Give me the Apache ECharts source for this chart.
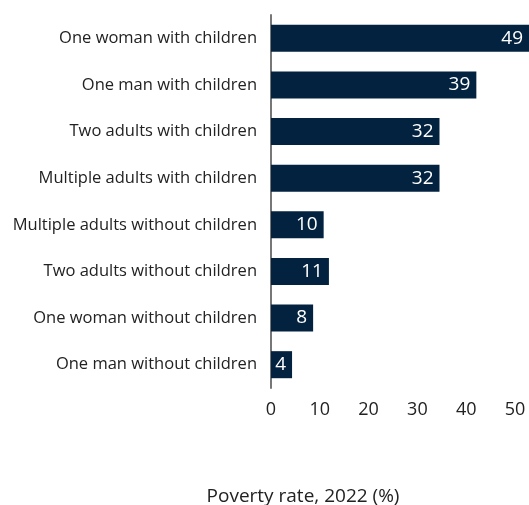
<!DOCTYPE html>
<html><head><meta charset="utf-8">
<script src="https://cdn.jsdelivr.net/npm/echarts@6/dist/echarts.min.js"></script>
<style>html,body{margin:0;padding:0;background:#fff}#c{width:529px;height:505px}</style>
</head><body><div id="c"></div>
<script>
const categories = ["One woman with children","One man with children","Two adults with children","Multiple adults with children","Multiple adults without children","Two adults without children","One woman without children","One man without children"];
const values = [49, 39, 32, 32, 10, 11, 8, 4];
const tickLabels = [0, 10, 20, 30, 40, 50];
const axisTitle = "Poverty rate, 2022 (%)";
const FONT = "Open Sans";
const chart = echarts.init(document.getElementById('c'), null, {renderer:'canvas'});
chart.setOption({
  animation:false,
  textStyle:{fontFamily:FONT},
  title:{text:axisTitle, left:298, top:482, textAlign:'center',
    textStyle:{color:'#222', fontSize:19, fontWeight:'normal', fontFamily:FONT}},
  grid:[
    {left:271, right:0, top:15, bottom:117, containLabel:false},
    {left:271, right:14, top:15, bottom:117, containLabel:false}
  ],
  xAxis:[
    {gridIndex:0, type:'value', min:0, max:49, show:false},
    {gridIndex:1, type:'value', min:tickLabels[0], max:tickLabels[tickLabels.length-1], interval:10,
     axisLine:{show:false}, axisTick:{show:false}, splitLine:{show:false},
     axisLabel:{color:'#222', fontSize:18, fontFamily:FONT, margin:13, showMaxLabel:true}}
  ],
  yAxis:[
    {gridIndex:0, type:'category', data:categories, inverse:true,
     axisLine:{show:true, lineStyle:{color:'#777', width:2}}, axisTick:{show:false},
     axisLabel:{color:'#222', fontSize:16.5, fontFamily:FONT, margin:14}},
    {gridIndex:1, type:'category', data:categories, show:false, inverse:true}
  ],
  series:[{
    type:'bar', xAxisIndex:0, yAxisIndex:0, data:values, barWidth:'58%',
    itemStyle:{color:'#03223f'},
    label:{show:true, position:'insideRight', distance:6, color:'#fff', fontSize:19, fontFamily:FONT}
  }]
});
</script></body></html>
